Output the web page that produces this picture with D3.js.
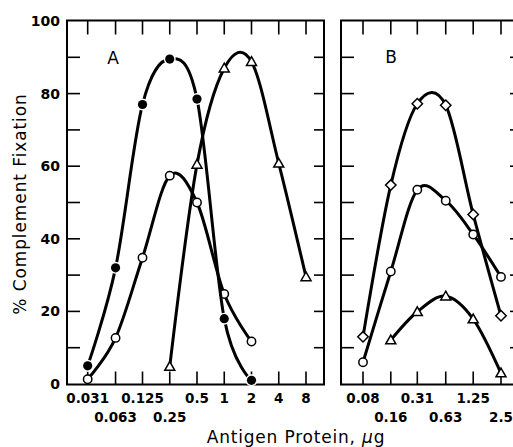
<!DOCTYPE html>
<html><head><meta charset="utf-8">
<script src="https://cdn.jsdelivr.net/npm/d3@7"></script>
<style>
html,body{margin:0;padding:0;background:#fff;}
svg{display:block;}
text{font-family:"DejaVu Sans",sans-serif;fill:#000;}
</style></head>
<body>
<script>
// ---- data ----
const dosesA = [0.031, 0.063, 0.125, 0.25, 0.5, 1, 2, 4, 8];
const tickLabelsA = ["0.031", "0.063", "0.125", "0.25", "0.5", "1", "2", "4", "8"];
const tickRowA = [0, 1, 0, 1, 0, 0, 0, 0, 0];
const dosesB = [0.08, 0.16, 0.31, 0.63, 1.25, 2.5];
const tickLabelsB = ["0.08", "0.16", "0.31", "0.63", "1.25", "2.5"];
const tickRowB = [0, 1, 0, 1, 0, 1];
const yTicks = [0, 20, 40, 60, 80, 100];

const aFilledDose = [0.031, 0.063, 0.125, 0.25, 0.5, 1, 2];
const aFilledFix = [5, 32, 77, 89.5, 78.5, 18, 1];
const aOpenDose = [0.031, 0.063, 0.125, 0.25, 0.5, 1, 2];
const aOpenFix = [1.3, 12.7, 34.8, 57.4, 50, 24.8, 11.7];
const aTriDose = [0.25, 0.5, 1, 2, 4, 8];
const aTriFix = [4.8, 60.5, 87, 88.8, 60.8, 29.5];

const bDiamondDose = [0.08, 0.16, 0.31, 0.63, 1.25, 2.5];
const bDiamondFix = [13, 54.8, 77.2, 76.8, 46.7, 18.8];
const bOpenDose = [0.08, 0.16, 0.31, 0.63, 1.25, 2.5];
const bOpenFix = [6, 31, 53.5, 50.5, 41.2, 29.5];
const bTriDose = [0.16, 0.31, 0.63, 1.25, 2.5];
const bTriFix = [12.1, 19.9, 24.2, 17.9, 3];

// ---- layout ----
const W = 513, H = 447;
const svg = d3.select("body").append("svg").attr("width", W).attr("height", H);

const yTop = 20.5, yBot = 384.5;
const y = d3.scaleLinear().domain([0, 100]).range([384, 21]);
const xA = d3.scaleLog().base(2).domain([0.03125, 8]).range([88, 306]);
const xB = d3.scaleLog().base(2).domain([0.08, 2.5]).range([363, 501]);
const frameA = [67, 324];
const frameB = [341, 520];

function frame(x0, x1) {
  svg.append("rect").attr("x", x0).attr("y", yTop).attr("width", x1 - x0).attr("height", yBot - yTop)
    .attr("fill", "none").attr("stroke", "#000").attr("stroke-width", 2);
  const minor = d3.range(10, 100, 10);
  svg.append("g").selectAll("line").data(minor).join("line")
    .attr("x1", x0).attr("x2", x0 + 13).attr("y1", d => y(d)).attr("y2", d => y(d))
    .attr("stroke", "#000").attr("stroke-width", 1.6);
  svg.append("g").selectAll("line").data(minor).join("line")
    .attr("x1", x1 - 10).attr("x2", x1).attr("y1", d => y(d)).attr("y2", d => y(d))
    .attr("stroke", "#000").attr("stroke-width", 1.6);
}
function xTicks(scale, vals, labels, rows) {
  const g = svg.append("g");
  g.selectAll("line.t").data(vals).join("line").attr("class", "t")
    .attr("x1", d => scale(d)).attr("x2", d => scale(d)).attr("y1", yTop).attr("y2", yTop + 14)
    .attr("stroke", "#000").attr("stroke-width", 1.6);
  g.selectAll("line.b").data(vals).join("line").attr("class", "b")
    .attr("x1", d => scale(d)).attr("x2", d => scale(d)).attr("y1", yBot).attr("y2", yBot - 13)
    .attr("stroke", "#000").attr("stroke-width", 1.6);
  g.selectAll("text").data(vals).join("text")
    .attr("x", d => scale(d)).attr("y", (d, i) => rows[i] ? 422 : 403)
    .attr("text-anchor", "middle").attr("font-size", 13.5).attr("font-weight", "bold")
    .text((d, i) => labels[i]);
}
frame(frameA[0], frameA[1]);
frame(frameB[0], frameB[1]);
xTicks(xA, dosesA, tickLabelsA, tickRowA);
xTicks(xB, dosesB, tickLabelsB, tickRowB);

svg.append("g").selectAll("text").data(yTicks).join("text")
  .attr("x", 60).attr("y", d => y(d)).attr("dy", "0.36em").attr("text-anchor", "end")
  .attr("font-size", 14).attr("font-weight", "bold").text(d => d);

svg.append("text").attr("x", 113).attr("y", 64).attr("text-anchor", "middle")
  .attr("font-size", 17).text("A");
svg.append("text").attr("x", 391).attr("y", 63).attr("text-anchor", "middle")
  .attr("font-size", 17).text("B");

svg.append("text").attr("x", 296).attr("y", 443).attr("text-anchor", "middle")
  .attr("font-size", 17).attr("letter-spacing", 0.8)
  .html('Antigen Protein, <tspan font-style="italic">μ</tspan>g');
svg.append("text").attr("transform", "translate(26,204) rotate(-90)").attr("text-anchor", "middle")
  .attr("font-size", 17).attr("letter-spacing", 0.9).text("% Complement Fixation");

// ---- series ----
const curve = d3.curveCardinal.tension(0);
function series(scale, doses, vals, shape) {
  const pts = doses.map((d, i) => [scale(d), y(vals[i])]);
  svg.append("path").attr("d", d3.line().curve(curve)(pts))
    .attr("fill", "none").attr("stroke", "#000").attr("stroke-width", 3);
  const g = svg.append("g");
  pts.forEach(p => {
    if (shape === "filled") {
      g.append("circle").attr("cx", p[0]).attr("cy", p[1]).attr("r", 6).attr("fill", "#fff");
      g.append("circle").attr("cx", p[0]).attr("cy", p[1]).attr("r", 4.6).attr("fill", "#000");
    } else if (shape === "open") {
      g.append("circle").attr("cx", p[0]).attr("cy", p[1]).attr("r", 4.2)
        .attr("fill", "#fff").attr("stroke", "#000").attr("stroke-width", 1.5);
    } else if (shape === "tri") {
      const s = 5;
      g.append("path").attr("d", `M${p[0]},${p[1] - s}L${p[0] + s},${p[1] + s * 0.75}L${p[0] - s},${p[1] + s * 0.75}Z`)
        .attr("fill", "#fff").attr("stroke", "#000").attr("stroke-width", 1.5);
    } else if (shape === "diamond") {
      const s = 5.2;
      g.append("path").attr("d", `M${p[0]},${p[1] - s}L${p[0] + s},${p[1]}L${p[0]},${p[1] + s}L${p[0] - s},${p[1]}Z`)
        .attr("fill", "#fff").attr("stroke", "#000").attr("stroke-width", 1.5);
    }
  });
}
series(xA, aTriDose, aTriFix, "tri");
series(xA, aOpenDose, aOpenFix, "open");
series(xA, aFilledDose, aFilledFix, "filled");
series(xB, bDiamondDose, bDiamondFix, "diamond");
series(xB, bOpenDose, bOpenFix, "open");
series(xB, bTriDose, bTriFix, "tri");
</script>
</body></html>
